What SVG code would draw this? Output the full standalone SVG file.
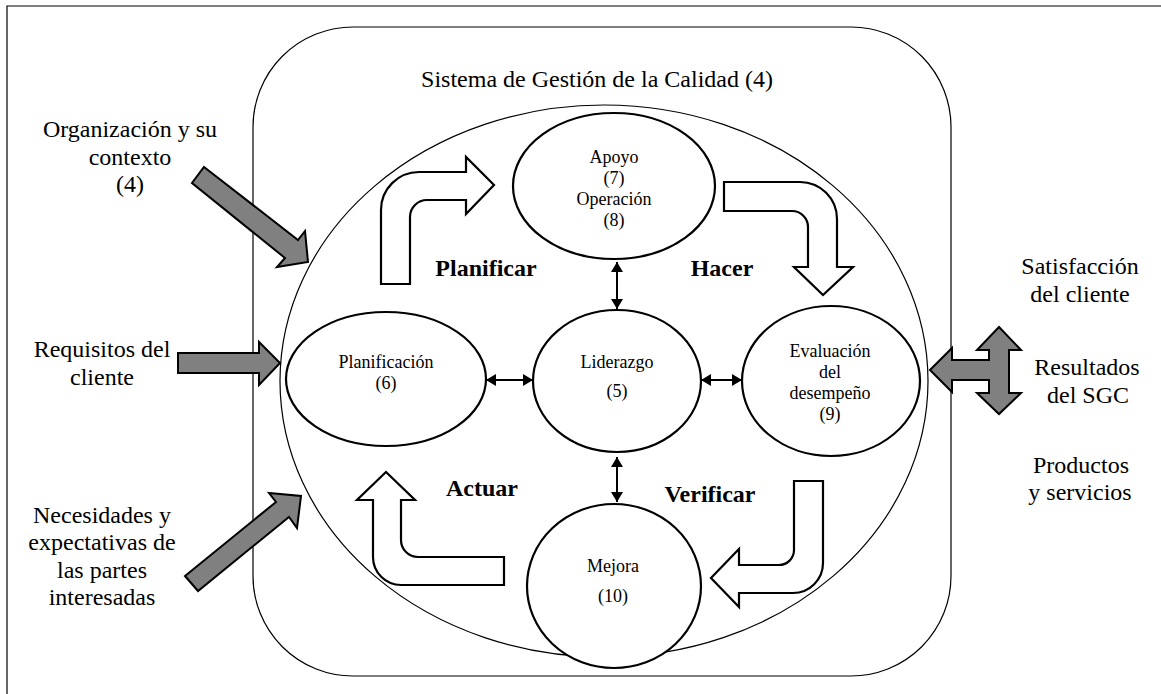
<svg xmlns="http://www.w3.org/2000/svg" width="1161" height="694" viewBox="0 0 1161 694">
  <style>
    text { font-family: 'Liberation Serif', 'DejaVu Serif', serif; fill: #000; text-anchor: middle; }
    .big { font-size: 24px; }
    .small { font-size: 18px; }
    .bold { font-size: 24px; font-weight: bold; }
    .thin { fill: none; stroke: #000; stroke-width: 1.2; }
    .node { fill: #fff; stroke: #000; stroke-width: 2.2; }
    .flow { fill: #fff; stroke: #000; stroke-width: 2.2; stroke-linejoin: miter; }
    .input { fill: #808080; stroke: #000; stroke-width: 2; stroke-linejoin: miter; }
    .link { stroke: #000; stroke-width: 2; fill: none; }
  </style>
  <defs>
    <marker id="tip" viewBox="0 0 10 12" refX="10" refY="6" markerWidth="10" markerHeight="13" orient="auto-start-reverse" markerUnits="userSpaceOnUse">
      <path d="M0,0 L10,6 L0,12 Z" fill="#000"/>
    </marker>
  </defs>

  <rect width="1161" height="694" fill="#fff"/>

  <!-- page frame -->
  <path class="thin" d="M7,694 L7,6 L1161,6"/>

  <!-- quality management system boundary -->
  <g id="sgc" font-family="Liberation Serif, serif">
    <rect class="thin" x="253" y="27" width="698" height="649" rx="100" ry="100"/>
    <text class="big" x="597" y="87">Sistema de Gestión de la Calidad (4)</text>
    <ellipse class="thin" cx="604" cy="381" rx="324" ry="276"/>
  </g>

  <!-- PDCA flow arrows -->
  <g id="cycle">
    <path class="flow" d="M381,284 L381,210 A38 38 0 0 1 419,172 L466,172 L466,157 L494,185 L466,214 L466,200 L427,200 A17 17 0 0 0 410,217 L410,284 Z"/>
    <path class="flow" d="M724,182 L800,182 A37 37 0 0 1 837,219 L837,267 L853,267 L823,295 L794,267 L808,267 L808,227 A16 16 0 0 0 792,211 L724,211 Z"/>
    <path class="flow" d="M794,481 L823,481 L823,563 A30 30 0 0 1 793,593 L739,593 L739,607 L711,578 L739,549 L739,565 L779,565 A15 15 0 0 0 794,550 Z"/>
    <path class="flow" d="M504,557 L504,585 L401,585 A28 28 0 0 1 373,557 L373,500 L357,500 L386,472 L415,500 L401,500 L401,540 A17 17 0 0 0 418,557 Z"/>
    <text class="bold" x="486" y="276">Planificar</text>
    <text class="bold" x="722" y="276">Hacer</text>
    <text class="bold" x="482" y="496">Actuar</text>
    <text class="bold" x="710" y="502">Verificar</text>
  </g>

  <g id="apoyo">
    <ellipse class="node" cx="614" cy="186" rx="101" ry="73"/>
    <text class="small" x="614" y="163">Apoyo</text>
    <text class="small" x="614" y="184">(7)</text>
    <text class="small" x="614" y="205">Operación</text>
    <text class="small" x="614" y="226">(8)</text>
  </g>

  <g id="planificacion">
    <ellipse class="node" cx="386" cy="379" rx="100" ry="67"/>
    <text class="small" x="386" y="368">Planificación</text>
    <text class="small" x="386" y="389">(6)</text>
  </g>

  <g id="liderazgo">
    <ellipse class="node" cx="617" cy="381" rx="84" ry="71"/>
    <text class="small" x="617" y="368">Liderazgo</text>
    <text class="small" x="617" y="397">(5)</text>
  </g>

  <g id="evaluacion">
    <ellipse class="node" cx="831" cy="381" rx="89" ry="75"/>
    <text class="small" x="830" y="357">Evaluación</text>
    <text class="small" x="830" y="378">del</text>
    <text class="small" x="830" y="399">desempeño</text>
    <text class="small" x="830" y="420">(9)</text>
  </g>

  <g id="mejora">
    <ellipse class="node" cx="614" cy="586" rx="87" ry="82"/>
    <text class="small" x="613" y="572">Mejora</text>
    <text class="small" x="613" y="602">(10)</text>
  </g>

  <!-- links between the process nodes -->
  <g id="links">
    <line class="link" x1="617" y1="262" x2="617" y2="309" marker-start="url(#tip)" marker-end="url(#tip)"/>
    <line class="link" x1="486" y1="380" x2="533" y2="380" marker-start="url(#tip)" marker-end="url(#tip)"/>
    <line class="link" x1="701" y1="380" x2="742" y2="380" marker-start="url(#tip)" marker-end="url(#tip)"/>
    <line class="link" x1="617" y1="457" x2="617" y2="502" marker-start="url(#tip)" marker-end="url(#tip)"/>
  </g>

  <!-- inputs -->
  <g id="contexto">
    <text class="big" x="130" y="137">Organización y su</text>
    <text class="big" x="130" y="165">contexto</text>
    <text class="big" x="130" y="192">(4)</text>
    <path class="input" d="M204,167 L298,240 L305,231 L308,262 L277,267 L285,258 L192,183 Z"/>
  </g>

  <g id="requisitos">
    <text class="big" x="102" y="357">Requisitos del</text>
    <text class="big" x="102" y="385">cliente</text>
    <path class="input" d="M178,353 L259,353 L259,342 L280,363 L259,385 L259,373 L178,373 Z"/>
  </g>

  <g id="partes">
    <text class="big" x="102" y="523">Necesidades y</text>
    <text class="big" x="102" y="550">expectativas de</text>
    <text class="big" x="102" y="578">las partes</text>
    <text class="big" x="102" y="605">interesadas</text>
    <path class="input" d="M185,576 L276,502 L269,493 L301,496 L297,528 L289,517 L198,591 Z"/>
  </g>

  <!-- outputs -->
  <g id="resultados">
    <path class="input" d="M930,370 L952,348 L952,360 L989,360 L989,350 L977,350 L999,327 L1021,350 L1009,350 L1009,393 L1021,393 L999,414 L977,393 L989,393 L989,380 L952,380 L952,392 Z"/>
    <text class="big" x="1080" y="274">Satisfacción</text>
    <text class="big" x="1080" y="302">del cliente</text>
    <text class="big" x="1087" y="375">Resultados</text>
    <text class="big" x="1088" y="403">del SGC</text>
    <text class="big" x="1081" y="473">Productos</text>
    <text class="big" x="1080" y="500">y servicios</text>
  </g>
</svg>
